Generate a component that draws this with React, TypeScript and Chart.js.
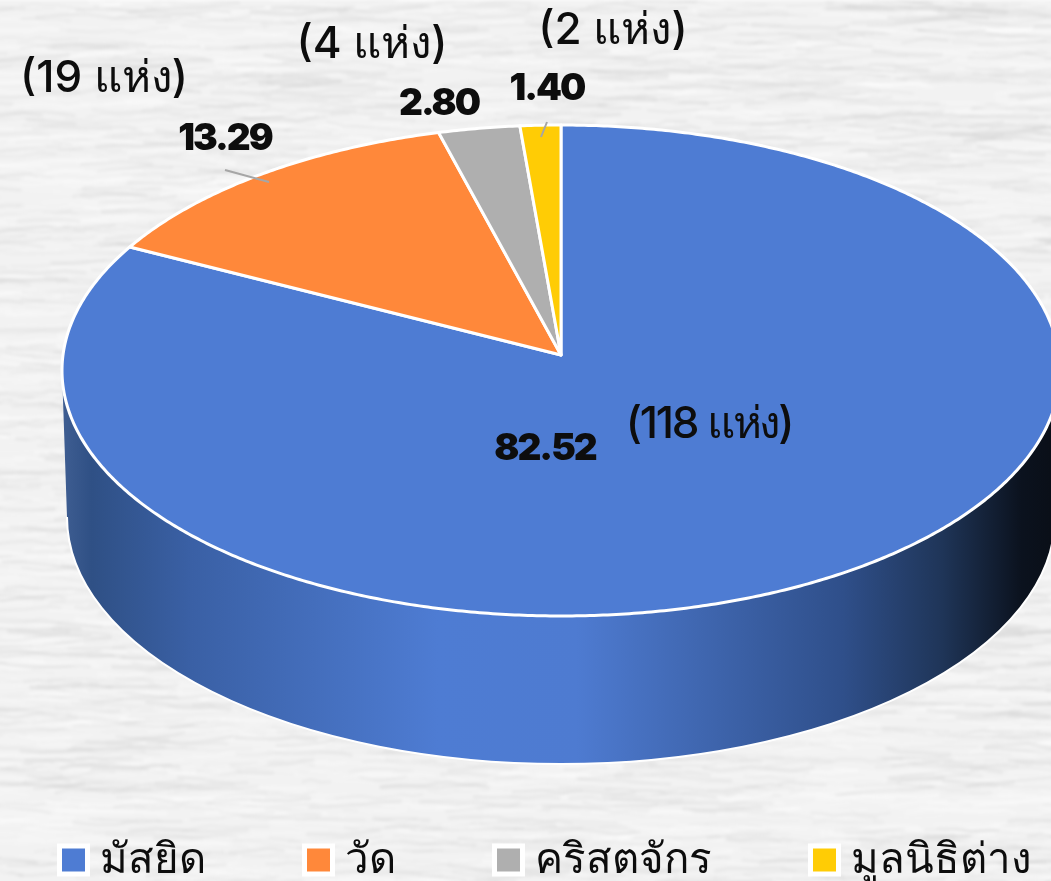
import React, { useEffect, useRef } from "react";
import { Chart, registerables } from "chart.js";

Chart.register(...registerables);

const categories = ["มัสยิด", "วัด", "คริสตจักร", "มูลนิธิต่าง"];
const shares = [82.52, 13.29, 2.8, 1.4];
const counts = [118, 19, 4, 2];
const colors = ["#4e7cd3", "#ff883a", "#afafaf", "#ffcc05"];

const THAI = 'Inter, "Noto Sans", sans-serif';
const BOLD = 'Inter, Roboto, sans-serif';

const CANVAS_W = 1400, CANVAS_H = 891, DX = 39;
const CX = 561, CY = 355, RX = 498, RY = 244.5, K = -0.0631;
const BOT_CY = 517, BOT_RX = 494, BOT_RY = 247;
const sharePos = [[545, 449], [225, 139], [439, 104], [547, 89]];
const countPos = [[709, 425], [104, 79], [372, 45], [613, 31]];
const countSpacing = ["-2.2px", "0px", "0px", "0px"];

const map = (a: number): [number, number] => {
  const u = Math.cos(a), v = Math.sin(a), w = 1 + K * v;
  return [CX + (RX * u) / w, CY + (RY * v) / w];
};

const tracePerim = (ctx: CanvasRenderingContext2D, a0: number, a1: number) => {
  const n = Math.max(4, Math.ceil(Math.abs(a1 - a0) * 120));
  for (let i = 0; i <= n; i++) {
    const p = map(a0 + ((a1 - a0) * i) / n);
    ctx.lineTo(p[0], p[1]);
  }
};

let paperCache: HTMLCanvasElement | null = null;
const paper = (ctx: CanvasRenderingContext2D, w: number, h: number) => {
  if (!paperCache) {
    const off = document.createElement("canvas");
    off.width = w;
    off.height = h;
    const o = off.getContext("2d")!;
    o.fillStyle = "#f2f2f2";
    o.fillRect(0, 0, w, h);
    let s = 12345;
    const r = () => ((s = (s * 1664525 + 1013904223) >>> 0) / 4294967296);
    o.lineCap = "round";
    o.lineJoin = "round";
    for (let i = 0; i < 6500; i++) {
      let x = r() * w - 30, y = r() * h;
      const segs = 3 + Math.floor(r() * 5);
      const dark = r() < 0.5;
      o.strokeStyle = dark ? `rgba(206,206,206,${0.1 + r() * 0.18})` : `rgba(255,255,255,${0.1 + r() * 0.25})`;
      o.lineWidth = 1 + r() * 3.5;
      o.beginPath();
      o.moveTo(x, y);
      for (let j = 0; j < segs; j++) {
        x += 8 + r() * 18;
        y += (r() - 0.5) * 6;
        o.lineTo(x, y);
      }
      o.stroke();
    }
    paperCache = off;
  }
  ctx.save();
  ctx.filter = "blur(1.4px)";
  ctx.drawImage(paperCache, 0, 0);
  ctx.restore();
};

const tiltPlugin = {
  id: "tilt",
  beforeDraw(chart: any) {
    paper(chart.ctx, chart.width, chart.height);
  },
  beforeDatasetDraw(chart: any, args: any) {
    const ctx: CanvasRenderingContext2D = chart.ctx;
    const arcs = args.meta.data;
    ctx.save();
    ctx.translate(DX, 0);
    // side wall
    const e0 = Math.asin(-K);
    ctx.beginPath();
    const start = map(e0);
    ctx.moveTo(start[0], start[1]);
    tracePerim(ctx, e0, Math.PI - e0);
    ctx.lineTo(CX - BOT_RX, BOT_CY);
    ctx.ellipse(CX, BOT_CY, BOT_RX, BOT_RY, 0, Math.PI, 0, true);
    ctx.closePath();
    const g = ctx.createLinearGradient(62, 0, 1051, 0);
    g.addColorStop(0, "#3f5e92");
    g.addColorStop(0.03, "#2f5085");
    g.addColorStop(0.13, "#3a60a5");
    g.addColorStop(0.38, "#4e7cd3");
    g.addColorStop(0.52, "#4e7bd1");
    g.addColorStop(0.79, "#2f4f8a");
    g.addColorStop(0.89, "#1f3558");
    g.addColorStop(0.97, "#0b121e");
    g.addColorStop(1, "#0a0f18");
    ctx.fillStyle = g;
    ctx.fill();
    ctx.beginPath();
    ctx.ellipse(CX, BOT_CY, BOT_RX, BOT_RY, 0, Math.PI, 0, true);
    ctx.strokeStyle = "#ffffff";
    ctx.lineWidth = 2;
    ctx.stroke();
    // top face
    arcs.forEach((el: any, i: number) => {
      const { startAngle, endAngle } = el.getProps(["startAngle", "endAngle"], true);
      ctx.beginPath();
      ctx.moveTo(CX, CY);
      tracePerim(ctx, startAngle, endAngle);
      ctx.closePath();
      ctx.fillStyle = colors[i];
      ctx.fill();
      ctx.lineJoin = "round";
      ctx.strokeStyle = "#ffffff";
      ctx.lineWidth = 3;
      ctx.stroke();
    });
    ctx.restore();
    return false;
  },
  afterDatasetsDraw(chart: any) {
    const ctx: CanvasRenderingContext2D = chart.ctx;
    ctx.save();
    ctx.translate(DX, 0);
    ctx.strokeStyle = "#a6a6a6";
    ctx.lineWidth = 2;
    ctx.beginPath();
    ctx.moveTo(225, 170);
    ctx.lineTo(269, 182);
    ctx.moveTo(547, 122);
    ctx.lineTo(541, 137);
    ctx.stroke();
    ctx.textAlign = "center";
    ctx.textBaseline = "middle";
    ctx.fillStyle = "#0d0d0d";
    shares.forEach((v, i) => {
      ctx.font = `900 37px ${BOLD}`;
      (ctx as any).letterSpacing = "-2px";
      ctx.fillText(v.toFixed(2), sharePos[i][0], sharePos[i][1]);
    });
    counts.forEach((c, i) => {
      ctx.font = `500 44px ${THAI}`;
      (ctx as any).letterSpacing = countSpacing[i];
      ctx.fillText(`(${c} แห่ง)`, countPos[i][0], countPos[i][1]);
    });
    ctx.restore();
  },
};

export default function App() {
  const ref = useRef<HTMLCanvasElement>(null);
  useEffect(() => {
    const baseLabels = (Chart as any).overrides.pie.plugins.legend.labels.generateLabels;
    const chart = new Chart(ref.current!, {
      type: "pie",
      data: {
        labels: categories,
        datasets: [{ data: shares, backgroundColor: colors, borderColor: "#ffffff", borderWidth: 3 }],
      },
      options: {
        responsive: false,
        animation: false,
        radius: RX,
        plugins: {
          tooltip: { enabled: false },
          legend: {
            position: "bottom",
            align: "start",
            labels: {
              usePointStyle: true,
              pointStyle: "rect",
              boxWidth: 11,
              boxHeight: 28,
              padding: 107,
              color: "#0d0d0d",
              font: { family: THAI, size: 42, weight: "500" },
              generateLabels: (c: any) =>
                baseLabels(c).map((l: any) => ({ ...l, lineWidth: 5 })),
            },
          },
        },
      } as any,
      plugins: [tiltPlugin as any],
    });
    return () => chart.destroy();
  }, []);
  return (
    <div style={{ position: "fixed", left: 0, top: 0, width: 1051, height: 881, overflow: "hidden" }}>
      <canvas ref={ref} width={CANVAS_W} height={CANVAS_H} style={{ display: "block", marginLeft: -DX }} />
    </div>
  );
}
